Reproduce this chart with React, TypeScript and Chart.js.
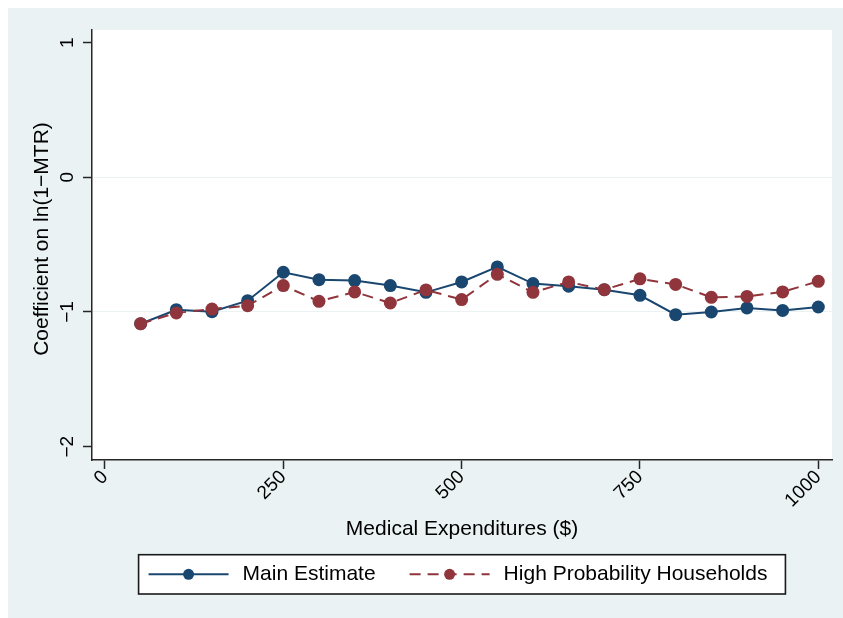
import React, { useEffect, useRef } from 'react';
import { Chart, registerables } from 'chart.js';

Chart.register(...registerables);

// ---- data ----
const expenditures = [50, 100, 150, 200, 250, 300, 350, 400, 450, 500, 550, 600, 650, 700, 750, 800, 850, 900, 950, 1000];
const mainEstimate = [-1.087, -0.983, -0.998, -0.916, -0.705, -0.760, -0.767, -0.804, -0.854, -0.777, -0.665, -0.789, -0.809, -0.834, -0.876, -1.020, -1.000, -0.970, -0.988, -0.963];
const highProbability = [-1.087, -1.007, -0.978, -0.953, -0.804, -0.921, -0.851, -0.933, -0.836, -0.908, -0.720, -0.854, -0.777, -0.834, -0.754, -0.795, -0.891, -0.884, -0.851, -0.772];
const seriesLabels = ['Main Estimate', 'High Probability Households'];
const xTickValues = [0, 250, 500, 750, 1000];
const xTickLabels = ['0', '250', '500', '750', '1000'];
const yTickValues = [-2, -1, 0, 1];
const yTickLabels = ['\u22122', '\u22121', '0', '1'];
const xTitle = 'Medical Expenditures ($)';
const yTitle = 'Coefficient on ln(1\u2212MTR)';

// ---- style ----
const BLUE = '#1a476f';
const RED = '#90353b';
const BG = '#eaf2f3';
const AXIS = '#262626';
const FONT = "'Liberation Sans', Arial, Helvetica, sans-serif";
const W = 835;
const H = 610;

const backgroundPlugin = {
  id: 'stataBackground',
  beforeDraw(chart: any) {
    const { ctx, chartArea } = chart;
    ctx.save();
    ctx.fillStyle = BG;
    ctx.fillRect(0, 0, chart.width, chart.height);
    ctx.fillStyle = '#ffffff';
    ctx.fillRect(chartArea.left, chartArea.top, chartArea.right - chartArea.left, chartArea.bottom - chartArea.top);
    ctx.restore();
  },
};

const titlesPlugin = {
  id: 'stataTitles',
  afterDraw(chart: any) {
    const { ctx, chartArea } = chart;
    ctx.save();
    ctx.fillStyle = '#000';
    ctx.font = `21px ${FONT}`;
    ctx.textAlign = 'center';
    ctx.textBaseline = 'middle';
    ctx.fillText(xTitle, (chartArea.left + chartArea.right) / 2, 521.5);
    ctx.translate(34.5, (chartArea.top + chartArea.bottom) / 2 - 6);
    ctx.rotate(-Math.PI / 2);
    ctx.fillText(yTitle, 0, 0);
    ctx.restore();
  },
};

const legendPlugin = {
  id: 'stataLegend',
  afterDraw(chart: any) {
    const { ctx, chartArea } = chart;
    const datasets = chart.data.datasets;
    ctx.save();
    ctx.font = `21px ${FONT}`;
    const sym = 80, gap = 14, itemGap = 34, padL = 10, padR = 18;
    const widths = datasets.map((d: any) => ctx.measureText(d.label).width);
    let total = padL + padR + itemGap * (datasets.length - 1);
    widths.forEach((w: number) => { total += sym + gap + w; });
    const left = (chartArea.left + chartArea.right) / 2 - total / 2;
    const top = H - 63.3;
    const h = 39.3;
    const cy = top + h / 2;
    ctx.fillStyle = '#ffffff';
    ctx.fillRect(left, top, total, h);
    ctx.strokeStyle = '#1a1a1a';
    ctx.lineWidth = 1.6;
    ctx.strokeRect(left, top, total, h);
    let x = left + padL;
    datasets.forEach((d: any, i: number) => {
      ctx.save();
      ctx.strokeStyle = d.borderColor;
      ctx.lineWidth = 2;
      ctx.setLineDash(d.borderDash || []);
      ctx.beginPath();
      ctx.moveTo(x, cy);
      ctx.lineTo(x + sym, cy);
      ctx.stroke();
      ctx.restore();
      ctx.fillStyle = d.pointBackgroundColor;
      ctx.beginPath();
      ctx.arc(x + sym / 2, cy, 5.5, 0, Math.PI * 2);
      ctx.fill();
      ctx.fillStyle = '#000';
      ctx.textAlign = 'left';
      ctx.textBaseline = 'middle';
      ctx.fillText(d.label, x + sym + gap, cy);
      x += sym + gap + widths[i] + itemGap;
    });
    ctx.restore();
  },
};

export default function App() {
  const ref = useRef<HTMLCanvasElement | null>(null);

  useEffect(() => {
    const canvas = ref.current;
    if (!canvas) return;
    const chart = new Chart(canvas, {
      type: 'line',
      data: {
        datasets: [
          {
            label: seriesLabels[0],
            data: expenditures.map((x, i) => ({ x, y: mainEstimate[i] })),
            borderColor: BLUE,
            backgroundColor: BLUE,
            pointBackgroundColor: BLUE,
            pointBorderWidth: 0,
            pointRadius: 6.5,
            borderWidth: 2,
            tension: 0,
            order: 1,
          },
          {
            label: seriesLabels[1],
            data: expenditures.map((x, i) => ({ x, y: highProbability[i] })),
            borderColor: RED,
            backgroundColor: RED,
            pointBackgroundColor: RED,
            pointBorderWidth: 0,
            pointRadius: 6.5,
            borderWidth: 2,
            borderDash: [11, 7],
            tension: 0,
            order: 0,
          },
        ],
      },
      options: {
        responsive: false,
        animation: false,
        layout: { padding: { left: 0, top: 22, right: 11, bottom: 0 } },
        plugins: { legend: { display: false }, tooltip: { enabled: false } },
        scales: {
          x: {
            type: 'linear',
            min: -18.2,
            max: 1019.2,
            afterBuildTicks: (s: any) => { s.ticks = xTickValues.map((v) => ({ value: v })); },
            afterFit: (s: any) => { s.height = 158; },
            ticks: {
              callback: (_v: any, i: number) => xTickLabels[i],
              minRotation: 45,
              maxRotation: 45,
              padding: -3,
              autoSkip: false,
              color: '#000',
              font: { family: FONT, size: 19 },
            },
            grid: { drawOnChartArea: false, drawTicks: true, tickLength: 9, tickColor: AXIS, tickWidth: 1.5 },
            border: { display: true, color: AXIS, width: 1.5 },
          },
          y: {
            type: 'linear',
            min: -2.099,
            max: 1.094,
            afterBuildTicks: (s: any) => { s.ticks = yTickValues.map((v) => ({ value: v })); },
            afterFit: (s: any) => { s.width = 84; },
            ticks: {
              callback: (_v: any, i: number) => yTickLabels[i],
              minRotation: 90,
              maxRotation: 90,
              crossAlign: 'center',
              padding: 4,
              autoSkip: false,
              color: '#000',
              font: { family: FONT, size: 19 },
            },
            grid: {
              color: (c: any) => (c.tick && (c.tick.value === yTickValues[0] || c.tick.value === yTickValues[yTickValues.length - 1]) ? 'rgba(0,0,0,0)' : BG),
              lineWidth: 1,
              drawTicks: true,
              tickLength: 9,
              tickColor: AXIS,
              tickWidth: 1.5,
            },
            border: { display: true, color: AXIS, width: 1.5 },
          },
        },
      } as any,
      plugins: [backgroundPlugin, titlesPlugin, legendPlugin],
    });
    return () => chart.destroy();
  }, []);

  return (
    <div style={{ position: 'fixed', left: 8, top: 8, width: W, height: H }}>
      <canvas ref={ref} width={W} height={H} style={{ display: 'block', width: W, height: H }} />
    </div>
  );
}
